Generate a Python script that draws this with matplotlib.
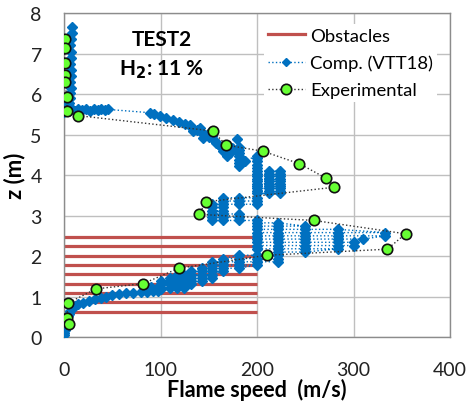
import matplotlib
matplotlib.use("Agg")
import matplotlib.pyplot as plt
from matplotlib.lines import Line2D

plt.rcParams['font.family'] = ['Lato', 'DejaVu Sans']

# ---------------- data ----------------
x_ticks = [0, 100, 200, 300, 400]
z_ticks = [0, 1, 2, 3, 4, 5, 6, 7, 8]

# Obstacles: horizontal lines from 0 to 200 m/s
obstacle_z = [0.63, 0.86, 1.09, 1.32, 1.55, 1.78, 2.01, 2.24, 2.46]
obstacle_x_end = 200

# Experimental (flame speed m/s, height m)
exp_x = [1.4, 0.7, 0.7, 0.7, 1.0, 2.8, 3.5, 14, 154, 168, 206, 244, 271, 280,
         147, 140, 259, 354, 335, 210, 119, 82, 33, 4, 3, 5]
exp_z = [7.36, 7.13, 6.77, 6.46, 6.30, 5.94, 5.59, 5.47, 5.09, 4.74, 4.59, 4.28,
         3.93, 3.70, 3.34, 3.03, 2.88, 2.55, 2.17, 2.02, 1.70, 1.32, 1.19, 0.84,
         0.48, 0.32]

# Computed (VTT18) - traced in segments, bottom to top
compA_x = [0, 0, 1, 2, 2, 3, 3, 4, 5, 6]
compA_z = [0.04, 0.10, 0.17, 0.24, 0.31, 0.38, 0.45, 0.52, 0.58, 0.65]

compB_x = [8, 11, 15, 20, 26, 32, 38, 44, 50, 57, 64, 72, 80, 86, 92, 97, 100, 96, 90, 85]
compB_z = [0.72, 0.77, 0.81, 0.85, 0.89, 0.93, 0.97, 1.00, 1.03, 1.06, 1.08, 1.10,
           1.11, 1.12, 1.13, 1.15, 1.18, 1.21, 1.23, 1.25]

compC_x = [100, 110, 117, 124,
           132, 124, 117, 110, 100,
           100, 110, 117, 124, 132, 143,
           153, 143, 132, 124, 117, 110,
           117, 124, 132, 143, 153,
           165, 153, 143, 132,
           143, 153, 165, 181,
           200, 181, 165, 153,
           153, 165, 181, 200, 222,
           222, 200, 181, 165,
           181, 200, 222]
compC_z = [1.22, 1.22, 1.22, 1.22,
           1.30, 1.30, 1.30, 1.30, 1.30,
           1.38, 1.38, 1.38, 1.38, 1.38, 1.38,
           1.46, 1.46, 1.46, 1.46, 1.46, 1.46,
           1.54, 1.54, 1.54, 1.54, 1.54,
           1.62, 1.62, 1.62, 1.62,
           1.70, 1.70, 1.70, 1.70,
           1.78, 1.78, 1.78, 1.78,
           1.86, 1.86, 1.86, 1.86, 1.86,
           1.94, 1.94, 1.94, 1.94,
           2.02, 2.02, 2.02]

compD_x = [222, 250,
           284, 250, 222, 200,
           200, 222, 250, 284, 300,
           300, 284, 250, 222, 200,
           200, 222, 250, 284, 310,
           333, 284, 250, 222, 200,
           200, 222, 250, 284, 333,
           284, 250, 222, 200,
           200, 222, 250,
           222, 200]
compD_z = [2.10, 2.10,
           2.18, 2.18, 2.18, 2.18,
           2.26, 2.26, 2.26, 2.26, 2.26,
           2.34, 2.34, 2.34, 2.34, 2.34,
           2.42, 2.42, 2.42, 2.42, 2.42,
           2.50, 2.50, 2.50, 2.50, 2.50,
           2.58, 2.58, 2.58, 2.58, 2.58,
           2.66, 2.66, 2.66, 2.66,
           2.74, 2.74, 2.74,
           2.82, 2.82]

compE_x = [200, 181, 165, 153,
           153, 165, 181,
           181, 165, 153,
           153, 165,
           165, 153,
           153, 165, 181, 200,
           200, 181, 165,
           165, 181, 200]
compE_z = [2.88, 2.88, 2.88, 2.88,
           2.96, 2.96, 2.96,
           3.04, 3.04, 3.04,
           3.12, 3.12,
           3.20, 3.20,
           3.28, 3.28, 3.28, 3.28,
           3.36, 3.36, 3.36,
           3.44, 3.44, 3.44]

compF_x = [200, 212, 224, 224, 212, 200, 200, 212, 224, 224, 212, 200,
           200, 212, 224, 224, 212, 200, 200, 212, 224, 224, 212, 200,
           200, 212, 224, 224, 212, 200, 200, 200, 200]
compF_z = [3.55, 3.55, 3.55, 3.61, 3.61, 3.61, 3.67, 3.67, 3.67, 3.73, 3.73, 3.73,
           3.79, 3.79, 3.79, 3.85, 3.85, 3.85, 3.91, 3.91, 3.91, 3.97, 3.97, 3.97,
           4.03, 4.03, 4.03, 4.10, 4.10, 4.10, 4.18, 4.26, 4.34]

compG_x = [200, 200, 188, 181, 181, 181, 181, 181, 181, 181, 179, 174, 172, 169, 165]
compG_z = [4.42, 4.48, 4.35, 4.22, 4.30, 4.38, 4.46, 4.54, 4.62, 4.70, 4.88, 4.68,
           4.55, 4.48, 4.60]

compH_x = [163, 160, 158, 155, 153, 151, 150, 146, 144, 142, 141, 138, 134, 132,
           131, 125, 119, 113, 106, 99, 93, 89]
compH_z = [4.70, 4.76, 4.80, 4.86, 4.96, 5.06, 4.95, 5.00, 4.92, 5.06, 5.16, 5.12,
           5.08, 5.18, 5.24, 5.27, 5.32, 5.37, 5.42, 5.47, 5.50, 5.54]

compI_x = [46, 42, 38, 35, 31, 27, 23, 19, 15, 11, 8, 5, 2, 0]
compI_z = [5.62, 5.60, 5.64, 5.60, 5.62, 5.58, 5.62, 5.60, 5.63, 5.59, 5.62, 5.58,
           5.60, 5.56]

compJ_x = [3, 5, 6, 6, 7, 6, 7, 7, 6, 7, 7, 6, 7, 8, 8]
compJ_z = [5.68, 5.78, 5.90, 6.02, 6.15, 6.30, 6.45, 6.60, 6.75, 6.90, 7.05, 7.20,
           7.35, 7.50, 7.65]

comp_x = compA_x + compB_x + compC_x + compD_x + compE_x + compF_x + compG_x + compH_x + compI_x + compJ_x
comp_z = compA_z + compB_z + compC_z + compD_z + compE_z + compF_z + compG_z + compH_z + compI_z + compJ_z

# ---------------- figure ----------------
RED = '#C0504D'
BLUE = '#0070C0'
GREEN = '#66FF33'
GRID = '#BFBFBF'

fig = plt.figure(figsize=(4.69, 4.02), dpi=100)
ax = fig.add_axes([0.1365, 0.159, 0.823, 0.806])

ax.set_xlim(0, 400)
ax.set_ylim(0, 8)
ax.set_xticks(x_ticks)
ax.set_yticks(z_ticks)
ax.grid(True, color=GRID, linewidth=1.0)
ax.set_axisbelow(True)
for s in ax.spines.values():
    s.set_color('#8C8C8C')
    s.set_linewidth(1.0)
ax.tick_params(axis='both', length=0, labelsize=14, colors='#222222')
ax.tick_params(axis='x', pad=17)
ax.tick_params(axis='y', pad=16)

ax.hlines(obstacle_z, 0, obstacle_x_end, colors=RED, linewidth=2.3, zorder=2)

ax.plot(comp_x, comp_z, linestyle=':', color=BLUE, linewidth=1.0,
        marker='D', markersize=4.8, markerfacecolor=BLUE, markeredgecolor=BLUE, zorder=3)

ax.plot(exp_x, exp_z, linestyle=':', color='#333333', linewidth=1.0,
        marker='o', markersize=7.5, markerfacecolor=GREEN, markeredgecolor='#111111',
        markeredgewidth=1.2, zorder=4)

ax.set_xlabel('Flame speed  (m/s)', fontsize=15.5, fontweight='bold', labelpad=0)
ax.set_ylabel('z (m)', fontsize=16, fontweight='bold', labelpad=4)

ax.text(101, 7.36, 'TEST2', fontsize=15, fontweight='bold', ha='center', va='center')
ax.text(101, 6.62, 'H$_\\mathbf{2}$: 11 %', fontsize=15, fontweight='bold', ha='center', va='center')

handles = [
    Line2D([], [], color=RED, linewidth=2.3),
    Line2D([], [], color=BLUE, linestyle=':', linewidth=1.0, marker='D', markersize=4),
    Line2D([], [], color='#333333', linestyle=':', linewidth=1.0, marker='o', markersize=7.5,
           markerfacecolor=GREEN, markeredgecolor='#111111', markeredgewidth=1.2),
]
leg = ax.legend(handles, ['Obstacles', 'Comp. (VTT18)', 'Experimental'],
                loc='upper right', bbox_to_anchor=(0.99, 0.995), fontsize=13.3,
                frameon=True, framealpha=1.0, edgecolor='none', fancybox=False,
                handlelength=2.0, handletextpad=0.3, labelspacing=0.6,
                borderpad=0.2)

fig.savefig('out.png', dpi=100)
